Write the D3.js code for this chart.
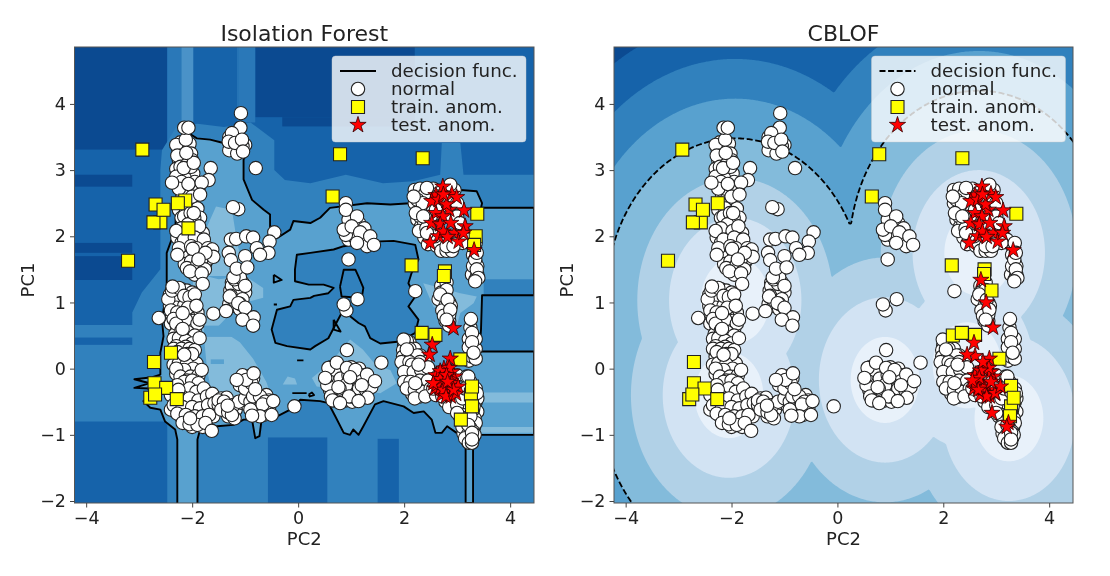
<!DOCTYPE html>
<html><head><meta charset="utf-8">
<script src="https://cdn.jsdelivr.net/npm/d3@7/dist/d3.min.js"></script>
<style>
html,body{margin:0;padding:0;background:#fff}
svg{display:block;filter:blur(.45px)}
text{font-family:"DejaVu Sans",sans-serif;fill:#222}
</style></head><body>
<svg id="c" width="1110" height="576"></svg>
<script>
const titles=["Isolation Forest","CBLOF"];
const legendLabels=["decision func.","normal","train. anom.","test. anom."];
const xTicks=[-4,-2,0,2,4], yTicks=[-2,-1,0,1,2,3,4];
const xDomain=[-4.22,4.45], yDomain=[-2.03,4.86];

const normalFill=[
[-2.22,3.42],[-2.15,3.35],[-2.26,3.3],[-2.05,3.4],[-2.1,3.2],[-2.25,3.15],[-2.02,3.25],[-2.18,3.1],[-2.3,3.02],[-2.08,2.98],[-2.24,2.92],[-1.98,2.95],[-2.14,2.88],[-2.02,2.7],[-1.94,2.62],[-2.18,2.6],[-2.1,2.55],[-2.25,2.4],[-2.05,2.5],[-1.9,2.42],[-2.2,2.28],[-1.85,2.28],[-2.0,2.22],[-1.92,2.12],[-2.12,2.05],[-2.28,1.98],[-2.05,1.95],[-1.85,1.92],[-1.8,2.05],[-2.2,1.9],[-2.12,1.8],[-2.2,1.7],[-2.08,1.68],[-1.95,1.72],[-1.85,1.78],[-2.14,1.58],[-1.98,1.55],[-1.75,1.6],[-1.88,1.5],[-1.7,1.66],
[-2.3,3.38],[-2.2,3.22],[-2.12,3.46],[-2.0,3.15],[-2.28,3.22],[-2.22,3.05],[-2.1,3.08],[-2.02,3.05],[-2.3,2.9],[-2.2,2.82],[-2.12,2.72],[-2.25,2.72],[-1.95,2.82],[-1.88,2.72],[-2.0,2.6],[-2.22,2.5],[-2.12,2.42],[-2.15,2.3],[-2.03,2.35],[-1.96,2.28],[-2.08,2.18],[-2.2,2.12],[-1.98,2.08],[-1.87,2.15],[-2.3,2.08],[-2.15,1.95],[-1.95,1.98],[-1.78,1.95],[-2.25,1.82],[-2.02,1.85],[-1.92,1.82],[-1.7,1.82],[-2.28,1.72],[-2.02,1.62],[-1.82,1.66],[-1.62,1.8],[-2.1,1.52],[-1.9,1.58],[-1.76,1.5],[-1.95,1.42],
[-2.42,1.12],[-2.3,1.15],[-2.2,1.2],[-2.1,1.18],[-2.0,1.15],[-2.35,1.02],[-2.22,1.05],[-2.1,1.03],[-1.97,1.03],[-2.42,.95],[-2.3,.92],[-2.15,.95],[-2.0,.9],[-1.9,.85],[-2.38,.82],[-2.26,.78],[-2.08,.8],[-1.98,.72],[-2.4,.68],[-2.28,.62],[-2.12,.66],[-2.02,.58],[-2.32,.52],[-2.18,.48],[-2.05,.45],[-1.95,.6],[-2.25,.38],
[-2.45,1.05],[-2.38,1.18],[-2.25,1.22],[-2.15,1.1],[-2.05,1.08],[-1.95,1.12],[-2.4,.88],[-2.28,.85],[-2.2,.72],[-2.08,.92],[-1.92,.95],[-2.35,.75],[-2.12,.74],[-1.9,.68],[-2.3,.68],[-2.2,.58],[-2.08,.55],[-1.95,.5],[-2.35,.45],[-2.25,.46],[-2.12,.42],[-2.0,.38],[-2.3,.34],[-2.12,.33],
[-2.35,.3],[-2.2,.3],[-2.05,.3],[-1.95,.28],[-2.3,.18],[-2.15,.12],[-2.0,.15],[-2.35,.06],[-2.22,.0],[-2.05,.03],[-1.92,.08],[-2.3,-.08],[-2.12,-.1],[-1.95,-.05],
[-2.28,.25],[-2.1,.22],[-2.0,.22],[-2.25,.08],[-2.1,.07],[-1.98,.0],[-2.15,-.02],[-2.3,.0],[-2.22,-.12],[-2.03,-.12],[-1.88,-.1],[-2.1,-.18],[-1.95,-.26],[-2.18,-.3],[-1.85,-.36],[-2.32,-.34],[-2.12,-.38],[-1.98,-.42],[-1.8,-.42],[-2.3,-.46],[-2.12,-.5],[-1.95,-.52],[-1.78,-.52],[-1.65,-.48],[-2.22,-.62],[-2.06,-.65],[-1.9,-.66],[-1.75,-.64],[-1.6,-.62],[-2.4,-.62],[-2.2,-.74],[-2.0,-.78],[-1.85,-.78],[-1.72,-.76],[-1.6,-.72],[-2.1,-.82],[-1.95,-.82],[-2.0,-.88],[-1.8,-.88],
[-2.15,-.2],[-2.0,-.18],[-1.88,-.22],[-2.28,-.25],[-2.05,-.3],[-1.92,-.35],[-1.78,-.3],[-2.4,-.4],[-2.2,-.42],[-2.05,-.45],[-1.88,-.48],[-1.72,-.42],[-1.62,-.38],[-2.35,-.55],[-2.18,-.58],[-2.0,-.58],[-1.85,-.6],[-1.7,-.55],[-1.58,-.52],[-2.28,-.68],[-2.12,-.7],[-1.95,-.72],[-1.8,-.72],[-1.68,-.7],[-2.18,-.82],[-2.05,-.84],[-1.9,-.85],[-1.75,-.82],
[-1.45,-.45],[-1.35,-.44],[-1.38,-.58],[-1.28,-.6],[-1.18,-.62],[-1.32,-.72],[-1.2,-.75],[-1.5,-.55],[-1.05,-.52],[-.95,-.55],[-.7,-.48],[-.6,-.4],[-.55,-.48],[-.78,-.7],[-.68,-.6],[-.85,-.55],[-1.05,-.2],[-.92,-.28],[-.95,-.12],[-.85,-.15],[-1.05,-.1],
[-1.5,-.48],[-1.4,-.5],[-1.45,-.62],[-1.32,-.66],[-1.22,-.55],[-1.25,-.7],[-1.12,-.5],[-1.0,-.45],[-.9,-.5],[-.8,-.52],[-.95,-.2],[-1.1,-.25],[-1.0,-.3],[-.88,-.22],[-.85,-.42],[-.72,-.42],[-.62,-.5],[-.55,-.6],[-.75,-.62],[-.65,-.7],[-.9,-.62],
[-1.25,1.3],[-1.15,1.32],[-1.05,1.3],[-1.28,1.18],[-1.18,1.2],[-1.08,1.22],[-1.0,1.15],[-1.22,1.08],[-1.12,1.1],[-1.3,.98],[-1.2,.95],[-1.1,.9],[-1.25,1.25],[-1.12,1.28],
[-1.2,1.35],[-1.1,1.38],[-1.27,1.1],[-1.18,1.02],[-1.05,1.05],[-1.0,1.25],[-1.22,1.38],[-1.1,.98],
[-1.3,3.5],[-1.22,3.52],[-1.12,3.5],[-1.28,3.38],[-1.15,3.42],[-1.1,3.32],[-1.22,3.3],[-1.0,3.38],
[-1.28,3.45],[-1.2,3.36],[-1.05,3.36],[-1.3,3.3],[-1.15,3.25],[-1.2,3.55],
[1.0,2.05],[1.2,1.92],[.95,1.95],[1.28,1.98],[1.05,2.0],[1.15,2.2],[1.25,2.12],[.9,2.02],[.95,2.25],[1.3,1.85],
[.6,-.05],[.72,-.1],[.85,-.05],[1.05,-.1],[1.15,.0],[.68,-.22],[.85,-.2],[1.0,-.28],[1.12,-.15],[1.3,-.22],[.75,-.38],[.88,-.35],[1.08,-.38],[1.22,-.42],[.9,-.48],[1.02,-.5],[.6,-.32],[.55,-.25],
[.62,.02],[.8,.0],[1.0,.02],[.55,-.12],[.7,-.02],[.8,-.15],[.95,-.1],[1.2,-.1],[.62,-.42],[.7,-.48],[.85,-.42],[1.0,-.42],[1.15,-.3],[1.28,-.32],[1.38,-.28],[.9,-.25],[.78,-.3],
[2.0,.35],[2.1,.4],[2.2,.3],[2.05,.2],[2.15,.18],[2.3,.2],[2.0,.05],[2.12,.0],[2.25,-.05],[2.4,.1],[2.05,-.1],[2.18,-.15],[2.35,-.1],[2.45,-.05],[2.1,-.3],[2.25,-.3],[2.4,-.25],[2.15,-.38],[2.3,-.42],[1.98,.28],
[2.05,.42],[2.1,.3],[2.25,.2],[1.98,.18],[1.95,.1],[2.1,.1],[2.3,.1],[2.15,.06],[2.0,-.05],[2.18,-.05],[2.32,-.02],[2.45,.02],[2.0,-.2],[2.12,-.2],[2.3,-.18],[2.45,-.18],[2.05,-.3],[2.2,-.32],[2.35,-.35],[2.5,-.3],[2.2,-.45],[2.4,-.42],
[2.25,2.65],[2.2,2.5],[2.35,2.62],[2.42,2.5],[2.55,2.72],[2.65,2.65],[2.75,2.5],[2.95,2.7],[2.3,2.4],[2.25,2.25],[2.32,2.15],[2.45,2.28],[2.55,2.4],[2.5,2.1],[2.38,1.98],[2.55,1.95],[2.68,2.35],[2.85,2.3],[3.0,2.3],[3.1,2.1],[2.72,1.88],[2.85,1.82],[2.98,1.88],[3.2,1.95],[3.3,1.85],[3.35,1.6],[3.28,1.42],[3.38,1.42],
[2.2,2.7],[2.3,2.72],[2.4,2.65],[2.25,2.55],[2.35,2.5],[2.3,2.3],[2.22,2.35],[2.38,2.2],[2.28,2.08],[2.42,2.12],[2.5,2.3],[2.6,2.4],[2.45,1.88],[2.62,1.85],[2.7,1.78],[2.8,1.78],[2.9,1.78],[2.62,2.6],[2.85,2.6],[3.0,2.5],[3.05,2.2],[2.58,2.0],[3.1,1.9],[3.35,1.9],[3.3,1.72],[3.38,1.55],[3.3,1.55],[3.35,1.35],
[2.7,1.25],[2.78,1.1],[2.72,1.0],[2.85,1.0],[2.8,.85],[2.78,.72],[2.85,.72],[3.25,.62],[3.3,.3],[3.22,.12],[3.35,.3],
[2.7,1.15],[2.65,1.05],[2.78,.95],[2.88,.95],[2.72,.88],[2.85,.82],[2.75,.8],[2.85,.65],[2.8,1.3],[3.22,.45],[3.35,.45],[3.22,.32],[3.28,.18],[3.35,.15],
[2.7,-.05],[2.85,-.1],[3.0,-.1],[3.18,-.12],[3.25,-.2],[3.35,-.3],[2.6,-.4],[2.78,-.5],[2.95,-.45],[3.25,-.45],[3.35,-.5],[3.15,-.6],[3.38,-.65],[3.05,-.72],[3.12,-.82],[3.33,-.75],[3.18,-.92],[3.32,-.88],[3.12,-.98],[3.25,-1.02],[3.2,-1.08],[3.3,-1.05],[3.2,-1.1],
[2.55,-.3],[2.65,-.2],[2.72,-.42],[2.85,-.58],[3.0,-.55],[3.1,-.45],[3.15,-.3],[3.28,-.35],[3.38,-.45],[3.2,-.7],[3.3,-.62],[3.1,-.7],[3.15,-.75],[3.35,-.82],[3.25,-.9],[3.1,-.88],[3.3,-.95],[3.2,-1.0],[3.33,-1.0],[3.15,-1.05],[3.22,-1.12],[3.28,-1.12]
];
const normalTop=[
[-1.08,3.86],[-1.09,3.64],[-2.15,3.64],[-2.07,3.64],[-1.25,3.56],[-1.31,3.43],[-1.19,3.41],[-1.06,3.46],[-1.04,3.28],[-.80,3.03],[-1.65,3.03],[-2.38,2.81],[-2.16,3.03],[-1.97,3.11],[-2.11,3.26],[-2.07,2.79],[-1.69,2.85],[-1.82,2.81],[-1.85,2.63],[-1.97,2.35],[-1.13,2.41],[-1.23,2.44],[-.45,2.06],[-1.27,1.95],[-1.17,1.96],[-.98,2.0],[-.85,1.98],[-.54,1.92],[-.78,1.82],[-.56,1.75],[-1.31,1.75],[-1.0,1.70],[-.72,1.72],[-1.27,1.64],[-1.16,1.51],[-.96,1.53],[-1.60,1.69],[-1.75,1.75],[-1.99,1.81],[-1.88,1.65],[-2.04,1.47],[-1.82,1.44],[-1.80,1.28],
[-2.37,1.24],[-2.63,.765],[-1.86,.74],[-2.18,.84],[-2.18,.60],[-1.86,.46],[-2.15,.21],[-1.82,-.02],[-2.26,-.32],[-2.04,-.75],[-1.63,-.94],[-1.33,-.56],[-1.29,1.09],[-1.60,.83],[-1.36,.87],[-1.13,.99],[-1.0,.92],[-.84,.775],[-1.05,.74],[-.85,.65],[-.98,-.17],[-1.16,-.17],[-.84,-.07],[-.81,-.31],[-.67,-.54],[-.72,-.72],[-.87,-.71],[-.50,-.70],[-.07,-.57],[-.47,-.49],
[.90,2.50],[.90,2.40],[1.11,2.30],[.86,2.10],[1.01,2.15],[1.17,2.06],[1.36,2.0],[1.43,1.87],[1.11,1.90],[.95,1.65],[.91,.88],[.86,.97],[1.12,1.05],[2.21,1.17],
[.92,.28],[1.57,.09],[.57,.01],[.73,.09],[.92,.01],[1.08,-.02],[.51,-.14],[1.30,-.09],[1.45,-.19],[.98,-.13],[.76,-.28],[1.20,-.25],[1.31,-.44],[.96,-.42],[.65,-.48],[.79,-.52],[1.14,-.49],
[1.99,.44],[2.05,.29],[2.27,.06],[2.21,-.22],
[2.43,2.73],[2.18,2.60],[2.87,2.78],[2.36,2.30],[2.43,2.05],[2.80,1.85],[2.93,1.85],[3.34,1.65],[3.37,1.75],[3.37,1.5],[3.40,1.37],[3.34,1.32],[2.80,1.19],[2.68,1.12],[2.82,1.04],[2.87,.89],[2.80,.74],
[3.26,.75],[3.28,.54],[3.28,.40],[3.31,.24],[3.21,-.12],[3.37,-.37],[3.31,-.57],[3.25,-.72],[3.0,-.67],[3.21,-.85],[3.28,-.97],[3.28,-1.07]
];
const normalPoints=normalFill.concat(normalTop);

const trainLeft=[[-2.94,3.31],[-2.69,2.48],[-2.60,2.21],[-2.73,2.21],[-2.54,2.40],[-2.13,2.54],[-2.27,2.50],[-2.07,2.12],[-3.21,1.63],[.79,3.24],[2.35,3.18],[.65,2.60],[3.38,2.34],[3.35,2.0],[3.32,1.87],[2.14,1.56],[2.77,1.47],[2.75,1.40],[-2.40,.24],[-2.72,.10],[-2.79,-.44],[-2.71,-.22],[-2.49,-.29],[-2.70,-.39],[-2.29,-.46],[2.33,.54],[2.59,.51],[3.06,.14],[3.26,-.39],[3.28,-.27],[3.28,-.57],[3.07,-.77]];
const trainRight=[[-2.93,3.31],[-2.68,2.48],[-2.58,2.21],[-2.73,2.21],[-2.54,2.40],[-2.26,2.50],[-3.2,1.63],[.79,3.24],[2.36,3.18],[.65,2.60],[3.38,2.34],[2.16,1.56],[2.78,1.5],[2.77,1.43],[2.91,1.18],[-2.71,.10],[-2.80,-.46],[-2.71,-.22],[-2.51,-.30],[-2.74,-.39],[-2.27,-.46],[2.18,.50],[2.35,.54],[2.60,.51],[3.06,.15],[3.28,-.26],[3.28,-.57],[3.33,-.44],[3.26,-.72]];
const testTop=[[2.6,2.35],[2.85,2.4],[2.95,2.05],[2.65,2.0],[2.6,2.62],[2.73,2.75],[2.90,2.64],[2.99,2.59],[2.52,2.53],[2.65,2.55],[2.80,2.48],[2.74,2.63],[3.13,2.39],[2.73,2.30],[2.52,2.20],[2.68,2.18],[2.88,2.20],[3.15,2.15],[2.74,2.07],[2.82,1.99],[3.03,1.92],[3.12,2.05],[2.49,1.90],[3.32,1.79]];
const testLow=[[2.6,-.1],[2.72,-.22],[2.85,-.32],[2.95,-.12],[2.7,-.4],[2.88,-.42],[2.58,-.3],[2.98,-.38],[2.78,-.28],[2.68,-.3],[2.9,-.05],[2.75,.0]];
const testLeft=testTop.concat(testLow,[[2.93,.61],[2.53,.36],[2.48,.21],[2.87,.15],[2.85,.01],[2.68,-.04],[2.62,-.24],[2.68,-.16],[2.80,-.1],[2.74,-.32],[2.90,-.22],[3.02,-.27],[2.79,-.42],[2.93,-.32],[2.55,-.22],[2.82,-.2]]);
const testRight=testTop.concat(testLow,[[2.71,1.34],[2.81,1.0],[2.94,.62],[2.58,.39],[2.60,.19],[2.45,.21],[2.87,.15],[2.86,.01],[2.7,-.03],[2.76,-.29],[2.6,-.24],[2.68,-.14],[2.82,-.42],[2.98,-.37],[3.08,-.27],[2.92,-.67],[2.66,-.32],[2.9,-.2],[2.55,-.18],[2.75,.1],[3.23,-.82],[3.2,-.88]]);

// Isolation Forest decision boundary
const ifMain=[[-2.28,-2.03],[-2.28,-1.07],[-2.32,-.92],[-2.51,-.80],[-2.60,-.62],[-2.79,-.59],[-2.92,-.49],[-2.75,-.42],[-2.78,-.30],[-3.09,-.29],[-2.80,-.22],[-3.09,-.16],[-2.75,-.13],[-2.60,-.09],[-2.60,.24],[-2.54,.49],[-2.57,.74],[-2.48,1.19],[-2.48,1.45],[-2.48,1.75],[-2.32,2.10],[-2.29,2.55],[-2.32,2.86],[-2.32,3.21],[-2.26,3.46],[-2.07,3.56],[-1.91,3.48],[-1.66,3.46],[-1.41,3.41],[-1.35,3.56],[-1.16,3.58],[-.97,3.50],[-.90,3.36],[-1.03,3.16],[-1.03,2.86],[-.87,2.55],[-.65,2.40],[-.53,2.33],[-.53,2.10],[-.40,1.97],[-.15,2.10],[-.09,2.23],[.23,2.20],[.415,2.28],[.60,2.43],[1.30,2.50],[1.74,2.48],[2.11,2.50],[2.30,2.60],[2.55,2.60],[3.06,2.70],[3.37,2.68],[3.47,2.50],[3.45,2.43],[4.45,2.43],[4.45,1.11],[3.47,1.11],[3.45,.59],[3.42,.26],[4.45,.26],[4.45,-1.0],[3.30,-1.0],[3.30,-2.03],[3.16,-2.03],[3.16,-1.10],[2.99,-.97],[2.81,-.87],[2.71,-.97],[2.59,-.97],[2.52,-.77],[2.37,-.645],[2.18,-.67],[1.99,-.57],[1.61,-.49],[1.45,-.54],[1.23,-.87],[1.14,-1.0],[1.04,-.92],[.98,-1.0],[.86,-.97],[.70,-.72],[.57,-.52],[.415,-.49],[.04,-.47],[-.15,-.62],[-.47,-.75],[-.69,-.77],[-.73,-1.02],[-.81,-1.05],[-.87,-.77],[-1.03,-.77],[-1.22,-.85],[-1.53,-.87],[-1.85,-.92],[-1.90,-1.07],[-1.90,-2.03]];
const ifHole=[[.23,1.75],[-.025,1.72],[-.06,1.50],[-.06,1.32],[.2,1.27],[.48,1.27],[.67,1.22],[.57,1.14],[.3,1.10],[.23,1.07],[-.09,1.04],[-.15,.94],[-.40,.89],[-.50,.59],[-.43,.39],[-.21,.34],[.23,.29],[.32,.34],[.57,.46],[.70,.66],[.82,.84],[.98,.79],[1.14,.69],[1.26,.64],[1.36,.46],[1.55,.38],[1.92,.41],[2.21,.54],[2.27,.74],[2.08,.94],[2.21,1.09],[2.08,1.29],[2.14,1.445],[2.27,1.65],[2.21,1.87],[1.80,1.93],[1.42,1.92],[.86,1.85],[.67,1.80],[.23,1.75]];
const ifIslands=[
[[.79,1.24],[.82,1.09],[1.20,1.07],[1.23,1.22],[1.14,1.39],[1.08,1.495],[.86,1.495],[.79,1.24]],
[[.67,.74],[.80,.56],[.67,.59],[.67,.74]],
[[-.46,1.42],[-.31,1.34],[-.46,1.30],[-.46,1.42]],
[[-.46,.97],[-.40,.97]],
[[-.02,.125],[.10,.125]],
[[-.11,-.37],[.16,-.37]],
[[.2,-.39],[.26,-.36],[.3,-.4],[.22,-.42],[.2,-.39]]
];

// Isolation Forest colour cells, [x0,y0,x1,y1] in data units, painted in order
const ifDarkCells=[[-4.3,3.31,-2.47,4.95],[-.81,3.8,2.2,4.95],[-4.3,2.75,-3.13,2.93],[-4.3,1.34,-3.13,1.7],[-4.3,1.75,-3.13,1.9],[-.3,3.66,2.2,3.8]];
const ifMidBand=[[-2.57,3.3],[-2.3,3.65],[-1.9,3.7],[-1.4,3.65],[-.9,3.72],[-.45,3.45],[-.45,3.0],[-.25,2.85],[.23,2.8],[.9,2.93],[1.6,2.8],[2.17,2.83],[2.68,2.93],[2.71,3.41],[3.06,3.41],[3.12,2.93],[4.5,2.93],[4.5,-2.1],[-2.47,-2.1],[-2.47,-.8],[-4.3,-.8],[-4.3,.66],[-3.13,.66],[-3.13,.85],[-2.95,1.15],[-2.6,1.5],[-2.6,3.0]];
const ifDeepCells=[[-4.3,.36,-3.13,.47],[-.57,-2.1,.55,-1.04],[1.5,-2.1,1.9,-1.06]];
const ifStripeCells=[[-2.47,3.3,-1.98,4.95],[-1.15,3.6,-1.12,4.95],[-1.12,3.72,-.81,4.95]];
const ifStripeLight=[[-2.2,3.55,-1.98,4.95]];
const ifPaleBand=[[3.5,1.11,4.5,1.35]];
const ifLightPolys=[
[[-2.0,1.5],[-1.75,1.4],[-1.5,1.35],[-1.0,1.4],[-.66,1.22],[-.66,1.07],[-1.1,.98],[-1.53,.62],[-1.1,.4],[-.85,.15],[-.6,-.2],[-.47,-.5],[-1.6,-.52],[-1.72,-.0],[-1.78,.5],[-1.97,.99]],
[[-1.55,2.45],[-1.25,2.4],[-1.15,1.9],[-1.0,1.4],[-1.75,1.4],[-1.8,2.0]],
[[.26,-.14],[.6,.08],[.98,.44],[1.22,.29],[1.48,.04],[1.74,-.02],[1.86,-.22],[1.55,-.37],[.35,-.27]],
[[2.36,1.29],[3.06,1.14],[3.37,1.09],[3.31,.99],[3.06,.84],[2.99,.64],[2.55,.94]],
[[3.5,-.51],[4.5,-.51],[4.5,-.36],[3.5,-.36]],
[[3.4,-.97],[4.5,-.97],[4.5,-.88],[3.4,-.88]],
[[-.29,-.24],[-.2,-.12],[-.06,-.15],[-.02,-.24]]
];
const ifDipCells=[[-1.78,.48,-1.25,.65],[-1.65,.07,-1.4,.14]];

const cblofCentres=[[-1.93,1.03],[-2.05,-.4],[.9,-.17],[2.45,.05],[2.67,1.75],[3.24,-.75]];
const cblofLevels=[.65,1.25,1.85,2.45,3.05,3.65,4.25];
const cblofThreshold=2.45;
const bandColours=["#e8f1fa","#d2e3f3","#b1d1e7","#83bbdb","#58a1cf","#3181bd","#1663aa","#0b4a91"];

const svg=d3.select("#c");
const panels=[{left:74.5,right:534},{left:614,right:1073}];
const plotTop=47,plotBottom=503;

function panel(i){
  const P=panels[i];
  const x=d3.scaleLinear().domain(xDomain).range([P.left,P.right]);
  const y=d3.scaleLinear().domain(yDomain).range([plotBottom,plotTop]);
  const line=d3.line().x(d=>x(d[0])).y(d=>y(d[1]));
  const g=svg.append("g");
  const id="clip"+i;
  svg.append("clipPath").attr("id",id).append("rect").attr("x",P.left).attr("y",plotTop).attr("width",P.right-P.left).attr("height",plotBottom-plotTop);
  const plot=g.append("g").attr("clip-path",`url(#${id})`);
  const cell=(d,fill)=>plot.append("rect").attr("x",x(d[0])).attr("y",y(d[3])).attr("width",x(d[2])-x(d[0])).attr("height",y(d[1])-y(d[3])).attr("fill",fill);
  const poly=(d,fill)=>plot.append("path").attr("d",line(d)+"Z").attr("fill",fill);

  if(i===0){
    cell([-4.3,-2.1,4.5,4.95],bandColours[6]);
    ifDarkCells.forEach(d=>cell(d,bandColours[7]));
    ifStripeCells.forEach(d=>cell(d,"#2a78b8"));
    ifStripeLight.forEach(d=>cell(d,"#4a92c8"));
    poly(ifMidBand,bandColours[5]);
    ifDeepCells.forEach(d=>cell(d,bandColours[6]));
    plot.append("path").attr("d",line(ifMain)+"Z "+line(ifHole)+"Z").attr("fill",bandColours[4]).attr("fill-rule","evenodd");
    ifPaleBand.forEach(d=>cell(d,bandColours[5]));
    ifLightPolys.forEach(d=>poly(d,bandColours[3]));
    ifDipCells.forEach(d=>cell(d,bandColours[4]));
    const lw=1.9;
    [ifMain,ifHole,...ifIslands].forEach(d=>plot.append("path").attr("d",line(d)).attr("fill","none").attr("stroke","#000").attr("stroke-width",lw).attr("stroke-linejoin","round"));
  } else {
    const step=.025, x0=-4.4, y0=-2.2;
    const nx=Math.ceil(9/step), ny=Math.ceil(7.3/step);
    const vals=new Float64Array(nx*ny);
    for(let r=0;r<ny;r++)for(let c=0;c<nx;c++){
      const px=x0+c*step, py=y0+r*step;
      vals[r*nx+c]=d3.min(cblofCentres,k=>Math.hypot(px-k[0],py-k[1]));
    }
    const proj=d3.geoTransform({point(a,b){this.stream.point(x(x0+(a-.5)*step),y(y0+(b-.5)*step));}});
    const path=d3.geoPath(proj);
    const gen=d3.contours().size([nx,ny]).thresholds(cblofLevels);
    cell([-4.3,-2.1,4.5,4.95],bandColours[0]);
    gen(vals).forEach((c,k)=>plot.append("path").attr("d",path(c)).attr("fill",bandColours[k+1]));
    const t=d3.contours().size([nx,ny]).contour(vals,cblofThreshold);
    plot.append("path").attr("d",path(t)).attr("fill","none").attr("stroke","#000").attr("stroke-width",1.8).attr("stroke-dasharray","6,2.6");
  }

  const circleSym=d3.symbol(d3.symbolCircle,Math.PI*6.7*6.7);
  const squareSym=d3.symbol(d3.symbolSquare,13*13);
  const starSym=d3.symbol(d3.symbolStar,82);
  const mark=(data,sym,fill,stroke,sw)=>plot.append("g").selectAll("path").data(data).join("path")
    .attr("d",sym).attr("transform",d=>`translate(${x(d[0])},${y(d[1])})`).attr("fill",fill).attr("stroke",stroke).attr("stroke-width",sw);
  mark(normalPoints,circleSym,"#fff","#222",1.1);
  mark(i?trainRight:trainLeft,squareSym,"#ffff00","#222",1.1);
  mark(i?testRight:testLeft,starSym,"#ff0000","#300",.8);

  // spines
  g.append("rect").attr("x",P.left).attr("y",plotTop).attr("width",P.right-P.left).attr("height",plotBottom-plotTop).attr("fill","none").attr("stroke","#555").attr("stroke-width",1);

  const ax=g.append("g").attr("transform",`translate(0,${plotBottom})`).call(d3.axisBottom(x).tickValues(xTicks).tickSize(4.5).tickPadding(4));
  const ay=g.append("g").attr("transform",`translate(${P.left},0)`).call(d3.axisLeft(y).tickValues(yTicks).tickSize(4.5).tickPadding(4).tickFormat(d3.format("d")));
  [ax,ay].forEach(a=>{a.select(".domain").remove();a.selectAll("line").attr("stroke","#444");a.selectAll("text").attr("font-size",17.5).attr("font-family",'"DejaVu Sans"').attr("fill","#222");});

  const mid=(P.left+P.right)/2;
  g.append("text").attr("x",mid).attr("y",41).attr("text-anchor","middle").attr("font-size",22).text(titles[i]);
  g.append("text").attr("x",mid).attr("y",545).attr("text-anchor","middle").attr("font-size",18).text("PC2");
  g.append("text").attr("transform",`translate(${P.left-41},${(plotTop+plotBottom)/2+5}) rotate(-90)`).attr("text-anchor","middle").attr("font-size",18).text("PC1");

  // legend
  const lg=g.append("g").attr("transform",`translate(${P.left+257.5},56)`);
  lg.append("rect").attr("width",194).attr("height",86).attr("rx",3.5).attr("fill","#fff").attr("fill-opacity",.8).attr("stroke","#ccc").attr("stroke-opacity",.5).attr("stroke-width",.8);
  const rows=[15,33,51,69];
  lg.append("line").attr("x1",8).attr("x2",44).attr("y1",rows[0]).attr("y2",rows[0]).attr("stroke","#000").attr("stroke-width",1.8).attr("stroke-dasharray",i?"6,2.6":null);
  lg.append("path").attr("d",circleSym).attr("transform",`translate(26,${rows[1]})`).attr("fill","#fff").attr("stroke","#222").attr("stroke-width",1.1);
  lg.append("path").attr("d",squareSym).attr("transform",`translate(26,${rows[2]})`).attr("fill","#ffff00").attr("stroke","#222").attr("stroke-width",1.1);
  lg.append("path").attr("d",starSym).attr("transform",`translate(26,${rows[3]})`).attr("fill","#ff0000").attr("stroke","#300").attr("stroke-width",.8);
  legendLabels.forEach((t,k)=>lg.append("text").attr("x",59).attr("y",rows[k]+6).attr("font-size",18.3).text(t));
}
panel(0);panel(1);
</script>
</body></html>
